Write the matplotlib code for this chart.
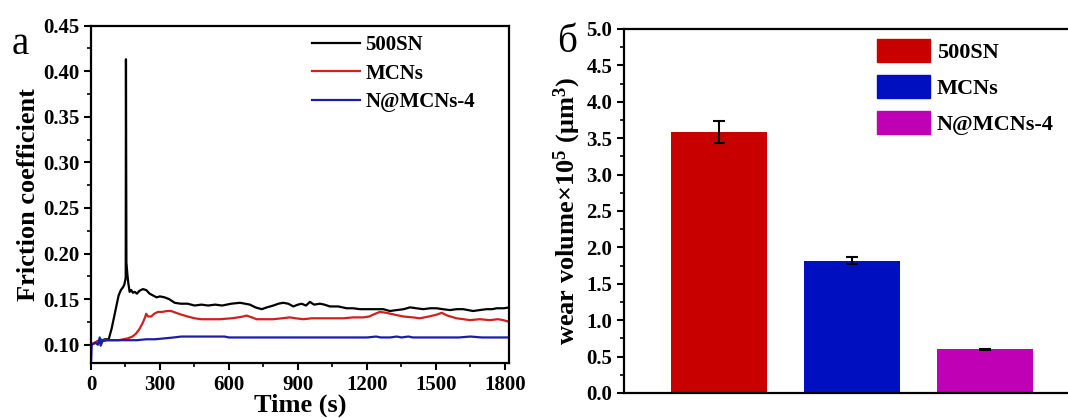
#!/usr/bin/env python3

import matplotlib
matplotlib.use("Agg")
import matplotlib.pyplot as plt
from matplotlib.ticker import MultipleLocator


# friction coefficient vs time
black_t = [0, 15, 30, 40, 50, 60, 77, 90, 100, 110, 120, 130, 139, 145, 150, 151, 152, 154,
           158, 162, 168, 175, 182, 190, 200, 210, 225, 240, 255, 270, 285, 300, 320, 340,
           364, 390, 420, 451, 480, 509, 540, 570, 610, 648, 670, 691, 715, 742, 765, 793,
           815, 836, 858, 880, 900, 916, 935, 952, 970, 996, 1015, 1039, 1075, 1112, 1140,
           1170, 1200, 1227, 1250, 1271, 1300, 1329, 1360, 1387, 1415, 1445, 1475, 1503,
           1530, 1561, 1590, 1619, 1640, 1662, 1690, 1720, 1745, 1764, 1795, 1820]
black_v = [0.100, 0.102, 0.104, 0.106, 0.105, 0.106, 0.106, 0.118, 0.130, 0.142, 0.154, 0.160,
           0.163, 0.166, 0.172, 0.175, 0.413, 0.190, 0.178, 0.168, 0.158, 0.160, 0.157, 0.158,
           0.156, 0.159, 0.161, 0.160, 0.156, 0.154, 0.152, 0.153, 0.152, 0.150, 0.146, 0.145,
           0.145, 0.143, 0.144, 0.143, 0.144, 0.143, 0.145, 0.146, 0.145, 0.144, 0.141, 0.139,
           0.141, 0.143, 0.145, 0.146, 0.145, 0.142, 0.144, 0.145, 0.143, 0.147, 0.144, 0.145,
           0.144, 0.142, 0.142, 0.140, 0.140, 0.139, 0.139, 0.139, 0.139, 0.139, 0.137, 0.138,
           0.139, 0.141, 0.140, 0.139, 0.140, 0.140, 0.139, 0.138, 0.139, 0.139, 0.138, 0.137,
           0.138, 0.139, 0.139, 0.140, 0.140, 0.141]

red_t = [0, 30, 60, 90, 120, 140, 160, 180, 195, 210, 225, 235, 240, 248, 262, 275, 291, 310,
         330, 349, 370, 393, 420, 451, 480, 523, 560, 610, 640, 662, 676, 700, 720, 760, 793,
         830, 865, 890, 923, 960, 1010, 1050, 1097, 1140, 1184, 1210, 1227, 1256, 1285, 1320,
         1358, 1400, 1430, 1470, 1503, 1525, 1550, 1590, 1620, 1648, 1690, 1735, 1770, 1793,
         1820]
red_v = [0.100, 0.104, 0.105, 0.105, 0.105, 0.106, 0.107, 0.109, 0.112, 0.117, 0.124, 0.130,
         0.134, 0.131, 0.131, 0.134, 0.136, 0.136, 0.137, 0.137, 0.135, 0.133, 0.131, 0.129,
         0.128, 0.128, 0.128, 0.129, 0.130, 0.131, 0.132, 0.130, 0.128, 0.128, 0.128, 0.129,
         0.130, 0.129, 0.128, 0.129, 0.129, 0.129, 0.129, 0.130, 0.130, 0.131, 0.133, 0.136,
         0.135, 0.133, 0.131, 0.130, 0.129, 0.131, 0.133, 0.135, 0.132, 0.129, 0.128, 0.127,
         0.128, 0.127, 0.128, 0.127, 0.125]

blue_t = [0, 3, 10, 20, 30, 38, 42, 50, 70, 100, 150, 200, 240, 277, 320, 360, 393, 450, 520,
          580, 600, 700, 800, 900, 1000, 1100, 1200, 1240, 1260, 1300, 1330, 1350, 1380, 1400,
          1500, 1600, 1650, 1700, 1820]
blue_v = [0.080, 0.100, 0.101, 0.102, 0.100, 0.108, 0.099, 0.104, 0.105, 0.105, 0.105, 0.105,
          0.106, 0.106, 0.107, 0.108, 0.109, 0.109, 0.109, 0.109, 0.108, 0.108, 0.108, 0.108,
          0.108, 0.108, 0.108, 0.109, 0.108, 0.108, 0.109, 0.108, 0.109, 0.108, 0.108, 0.108,
          0.109, 0.108, 0.108]

# wear volume
samples = ["500SN", "MCNs", "N@MCNs-4"]
wear = [3.59, 1.82, 0.60]
wear_err = [0.15, 0.05, 0.01]
bar_colors = ["#C80000", "#0010C0", "#C000B4"]

plt.rcParams["font.family"] = ["Liberation Serif", "DejaVu Serif"]
plt.rcParams["font.weight"] = "bold"
plt.rcParams["mathtext.fontset"] = "custom"
plt.rcParams["mathtext.rm"] = "Liberation Serif:bold"
plt.rcParams["mathtext.it"] = "Liberation Serif:bold"
plt.rcParams["mathtext.bf"] = "Liberation Serif:bold"


def style_axis(ax):
    for sp in ax.spines.values():
        sp.set_linewidth(1.6)
    ax.tick_params(which="major", direction="out", length=5, width=1.5, labelsize=15)
    ax.tick_params(which="minor", direction="out", length=3, width=1.2)
    for lab in ax.get_xticklabels() + ax.get_yticklabels():
        lab.set_fontweight("bold")


def friction_plot(fig):
    ax = fig.add_axes([91 / 1068, 1 - 363 / 418, (509.5 - 91) / 1068, (363 - 25.5) / 418])
    ax.plot(black_t, black_v, color="black", lw=1.6, label="500SN")
    ax.plot(red_t, red_v, color="#D02020", lw=1.6, label="MCNs")
    ax.plot(blue_t, blue_v, color="#1C1CA8", lw=1.6, label="N@MCNs-4")
    ax.set_xlim(0, 1820)
    ax.set_ylim(0.08, 0.45)
    ax.xaxis.set_major_locator(MultipleLocator(300))
    ax.xaxis.set_minor_locator(MultipleLocator(150))
    ax.yaxis.set_minor_locator(MultipleLocator(0.025))
    ax.set_yticks([0.10, 0.15, 0.20, 0.25, 0.30, 0.35, 0.40, 0.45])
    ax.set_yticklabels([f"{v:.2f}" for v in ax.get_yticks()])
    style_axis(ax)
    ax.set_xlabel("Time (s)", fontsize=19, fontweight="bold", labelpad=-1)
    ax.set_ylabel("Friction coefficient", fontsize=19, fontweight="bold", labelpad=2)
    ax.legend(loc="upper left", bbox_to_anchor=(312 / 1068, 1 - 35 / 418),
              bbox_transform=fig.transFigure, frameon=False,
              handlelength=2.3, handletextpad=0.25, labelspacing=0.42,
              borderpad=0, borderaxespad=0, prop={"weight": "bold", "size": 15})
    fig.text(20 / 1068, 1 - 45 / 418, "a", fontsize=28, fontweight="normal",
             ha="center", va="center")


def wear_plot(fig):
    ax = fig.add_axes([624 / 1068, 1 - 393 / 418, 456 / 1068, (393 - 29) / 418])
    x = list(range(len(samples)))
    ax.bar(x, wear, width=0.72, color=bar_colors, yerr=wear_err, capsize=4,
           error_kw={"elinewidth": 1.5, "capthick": 1.5, "ecolor": "black"})
    ax.set_xlim(-0.71, 2.71)
    ax.set_ylim(0, 5.0)
    ax.yaxis.set_major_locator(MultipleLocator(0.5))
    ax.yaxis.set_minor_locator(MultipleLocator(0.25))
    ax.set_xticks([])
    ax.spines["right"].set_visible(False)
    style_axis(ax)
    ax.set_ylabel("wear volume×10$^5$ (μm$^3$)", fontsize=19,
                  fontweight="bold", labelpad=2)
    handles = [plt.Rectangle((0, 0), 1, 1, color=c) for c in bar_colors]
    ax.legend(handles, samples, loc="upper left",
              bbox_to_anchor=(877 / 1068, 1 - 39 / 418), bbox_transform=fig.transFigure,
              frameon=False, handlelength=2.4, handleheight=1.25, handletextpad=0.3,
              labelspacing=0.52, borderpad=0, borderaxespad=0,
              prop={"weight": "bold", "size": 16})
    fig.text(567 / 1068, 1 - 42 / 418, "б", fontsize=28, fontweight="normal",
             ha="center", va="center")


def main():
    fig = plt.figure(figsize=(10.68, 4.18), dpi=100)
    friction_plot(fig)
    wear_plot(fig)
    fig.savefig("out.png", dpi=100)
    plt.close(fig)


if __name__ == "__main__":
    main()
